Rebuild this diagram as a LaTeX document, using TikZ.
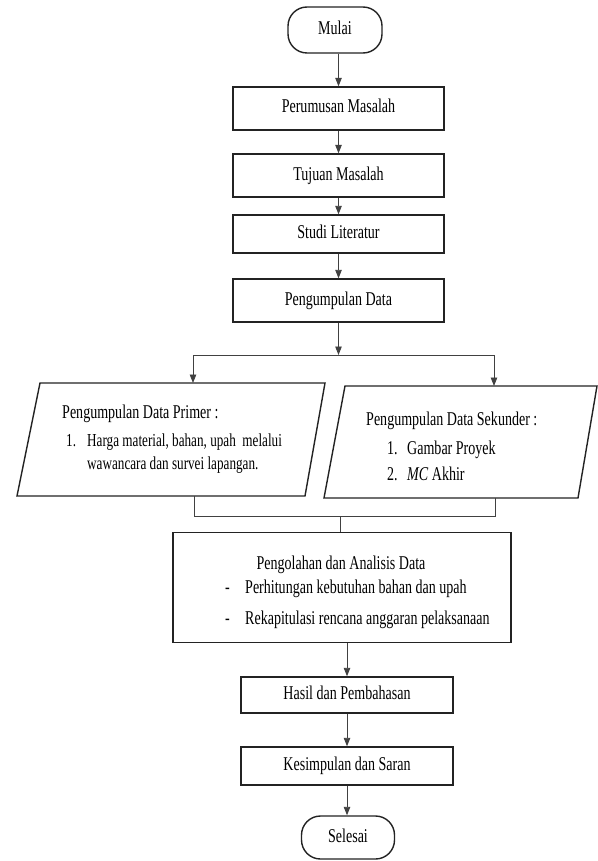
\documentclass[tikz,border=0pt]{standalone}
\usepackage{fontspec}
\setmainfont{Liberation Serif}[FakeStretch=0.72]
\usetikzlibrary{arrows.meta}
\definecolor{GarisTepi}{RGB}{35,35,35}
\definecolor{GarisAlur}{RGB}{65,65,65}
\newcommand{\teks}{\fontsize{19.5}{23}\selectfont}
\newcommand{\teksk}{\fontsize{18.3}{22}\selectfont}
\tikzset{
	kotak/.style={draw=GarisTepi,line width=1.4pt,inner sep=0pt,font=\teks,text height=13pt,text depth=4pt},
	ujung/.style={kotak,rounded corners=19pt},
	data/.style={draw=GarisTepi,line width=1.4pt,line join=miter},
	alur/.style={draw=GarisAlur,line width=0.9pt},
	panah/.style={alur,-{Triangle[width=6.5pt,length=8.5pt]}},
	isi/.style={font=\teks,anchor=base west,inner sep=0pt},
}

\begin{document}
\begin{tikzpicture}[x=1pt,y=-1pt]
	\path[fill=white,use as bounding box] (0,0) rectangle (597,861);
	% alur utama
	\node[ujung,minimum width=94pt,minimum height=46pt] (mulai) at (335,30) {Mulai};
	\node[kotak,minimum width=211pt,minimum height=43pt] (rumus) at (338.5,108.5) {Perumusan Masalah};
	\node[kotak,minimum width=211pt,minimum height=43pt] (tujuan) at (338.5,175.5) {Tujuan Masalah};
	\node[kotak,minimum width=211pt,minimum height=38pt] (studi) at (338.5,234) {Studi Literatur};
	\node[kotak,minimum width=211pt,minimum height=43pt] (kumpul) at (338.5,300.5) {Pengumpulan Data};
	\draw[panah] (mulai.south -| rumus.north) -- (rumus.north);
	\foreach \u/\v in {rumus/tujuan,tujuan/studi,studi/kumpul}
	\draw[panah] (\u.south) -- (\v.north);
	% data primer dan sekunder
	\coordinate (primerA) at (40,383);
	\coordinate (primerB) at (325,383);
	\coordinate (primerC) at (305,496);
	\coordinate (primerD) at (17,496);
	\coordinate (sekunderA) at (345,386);
	\coordinate (sekunderB) at (597,386);
	\coordinate (sekunderC) at (578,498);
	\coordinate (sekunderD) at (324,498);
	\draw[data] (primerA) -- (primerB) -- (primerC) -- (primerD) -- cycle;
	\draw[data] (sekunderA) -- (sekunderB) -- (sekunderC) -- (sekunderD) -- cycle;
	\node[isi] (primerjudul) at (62,418) {Pengumpulan Data Primer :};
	\node[isi,font=\teksk] (primer1) at (66,446) {\makebox[21pt][l]{1.}Harga material, bahan, upah\ \ melalui};
	\node[isi,font=\teksk] (primer2) at (87,469) {wawancara dan survei lapangan.};
	\node[isi] (sekunderjudul) at (366,425) {Pengumpulan Data Sekunder :};
	\node[isi] (sekunder1) at (387,454) {\makebox[20pt][l]{1.}Gambar Proyek};
	\node[isi] (sekunder2) at (387,480) {\makebox[20pt][l]{2.}\textit{MC} Akhir};
	\coordinate (cabang) at (338.5,355);
	\coordinate (cabangkiri) at (193,355);
	\coordinate (cabangkanan) at (494,355);
	\draw[panah] (kumpul.south) -- (cabang);
	\draw[alur] (cabangkiri) -- (cabangkanan);
	\draw[panah] (cabangkiri) -- (cabangkiri |- primerA);
	\draw[panah] (cabangkanan) -- (cabangkanan |- sekunderA);
	% pengolahan
	\node[kotak,minimum width=338pt,minimum height=110pt] (olah) at (342,587.5) {};
	\node[isi,anchor=base] (olahjudul) at (341,569) {Pengolahan dan Analisis Data};
	\node[isi] (olah1) at (225,593) {\makebox[20pt][l]{-}Perhitungan kebutuhan bahan dan upah};
	\node[isi] (olah2) at (225,624) {\makebox[20pt][l]{-}Rekapitulasi rencana anggaran pelaksanaan};
	\coordinate (gabung) at (340,516);
	\coordinate (gabungkiri) at (194,516);
	\coordinate (gabungkanan) at (495,516);
	\draw[alur] (gabungkiri |- primerD) -- (gabungkiri) -- (gabungkanan) -- (gabungkanan |- sekunderD);
	\draw[alur] (gabung) -- (gabung |- olah.north);
	% hasil sampai selesai
	\node[kotak,minimum width=212pt,minimum height=36pt] (hasil) at (347,695) {Hasil dan Pembahasan};
	\node[kotak,minimum width=212pt,minimum height=38pt] (simpul) at (347,766) {Kesimpulan dan Saran};
	\node[ujung,minimum width=93pt,minimum height=43pt] (selesai) at (348,837.5) {Selesai};
	\draw[panah] (olah.south -| hasil.north) -- (hasil.north);
	\draw[panah] (hasil.south) -- (simpul.north);
	\draw[panah] (simpul.south) -- (simpul.south |- selesai.north);
\end{tikzpicture}
\end{document}
